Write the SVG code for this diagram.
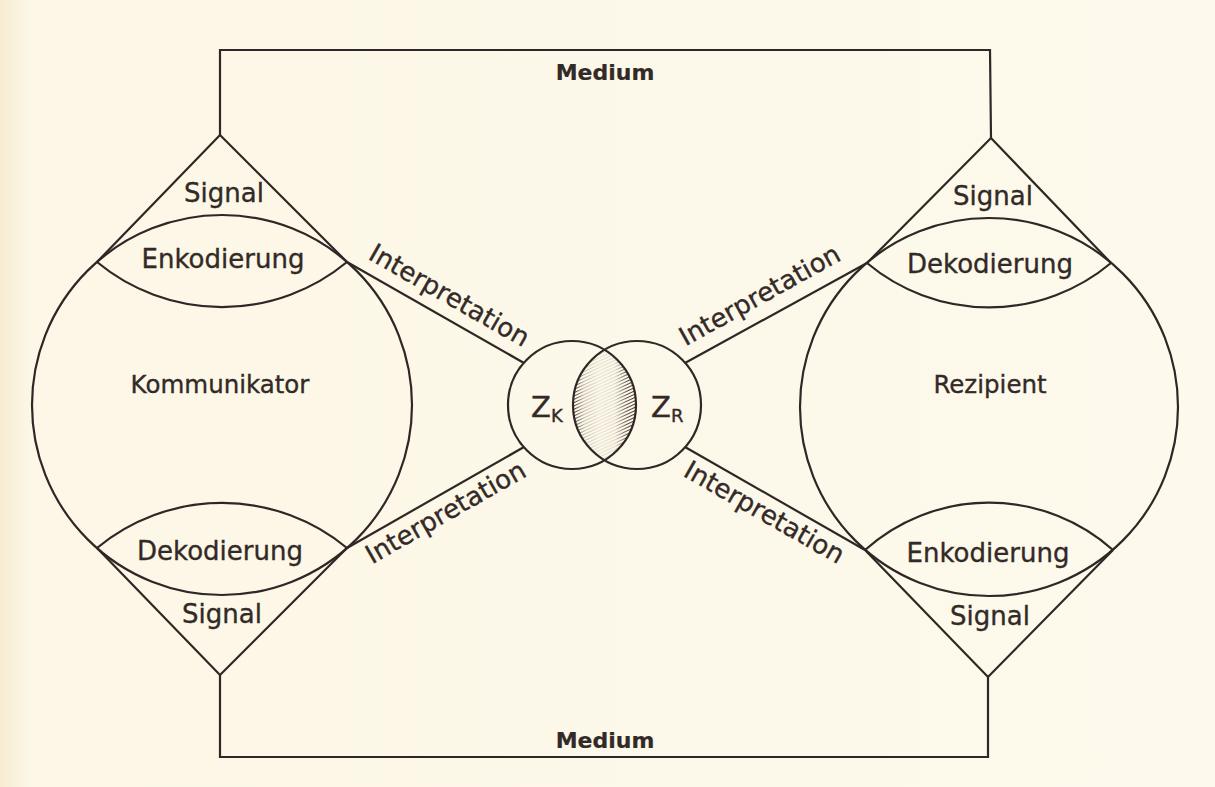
<svg xmlns="http://www.w3.org/2000/svg" width="1215" height="787" viewBox="0 0 1215 787">
  <style>
    .ln { fill: none; stroke: #2f2725; stroke-width: 2.2; stroke-linejoin: miter; }
    .t { font-family: "DejaVu Sans", "Liberation Sans", sans-serif; font-size: 26px; fill: #332a27; stroke: #332a27; stroke-width: 0.35; text-anchor: middle; }
    .big { font-size: 24.5px; }
    .med { font-weight: bold; font-size: 22px; stroke-width: 0.2; }
    .z { font-size: 29px; text-anchor: start; }
    .sub { font-size: 18px; }
  </style>
  <defs>
    <linearGradient id="bg" x1="0" y1="0" x2="1" y2="0">
      <stop offset="0" stop-color="#f8ecd2"/>
      <stop offset="0.025" stop-color="#fcf7e6"/>
      <stop offset="1" stop-color="#fdf9ec"/>
    </linearGradient>
    <pattern id="hatch" patternUnits="userSpaceOnUse" width="3" height="3" patternTransform="rotate(-25)">
      <line x1="0" y1="1.5" x2="3" y2="1.5" stroke="#3a2f2b" stroke-width="1"/>
    </pattern>
    <linearGradient id="fade" gradientUnits="userSpaceOnUse" x1="573" y1="0" x2="637" y2="0">
      <stop offset="0" stop-color="#fff" stop-opacity="1"/>
      <stop offset="0.18" stop-color="#fff" stop-opacity="0.3"/>
      <stop offset="0.4" stop-color="#fff" stop-opacity="0.1"/>
      <stop offset="0.65" stop-color="#fff" stop-opacity="0.15"/>
      <stop offset="0.85" stop-color="#fff" stop-opacity="0.85"/>
      <stop offset="1" stop-color="#fff" stop-opacity="1"/>
    </linearGradient>
    <mask id="lensMask" maskUnits="userSpaceOnUse" x="560" y="340" width="90" height="130">
      <rect x="560" y="340" width="90" height="130" fill="url(#fade)"/>
    </mask>
  </defs>

  <rect x="0" y="0" width="1215" height="787" fill="url(#bg)"/>

  <g id="connectors">
    <polyline id="medium-top" class="ln" points="220,135 220,50 990,50 991,138"/>
    <polyline id="medium-bottom" class="ln" points="220,675 220,757 988,757 988,677"/>
    <line class="ln" x1="347" y1="262" x2="524" y2="363"/>
    <line class="ln" x1="347" y1="548" x2="524" y2="447"/>
    <line class="ln" x1="867" y1="263" x2="685" y2="363"/>
    <line class="ln" x1="865" y1="550" x2="685" y2="447"/>
    <text class="t med" x="605" y="80">Medium</text>
    <text class="t med" x="605" y="748">Medium</text>
    <text class="t" transform="translate(445,303) rotate(29.74)">Interpretation</text>
    <text class="t" transform="translate(450,520) rotate(-29.74)">Interpretation</text>
    <text class="t" transform="translate(764,303) rotate(-29.05)">Interpretation</text>
    <text class="t" transform="translate(760,520) rotate(29.74)">Interpretation</text>
  </g>

  <g id="kommunikator">
    <circle class="ln" cx="222" cy="405" r="190"/>
    <polyline class="ln" points="97,262 220,135 347,262"/>
    <path class="ln" d="M97,262 A196,196 0 0 0 347,262"/>
    <path class="ln" d="M97,548 A196,196 0 0 1 347,548"/>
    <polyline class="ln" points="97,548 220,675 347,548"/>
    <text class="t" x="224" y="202">Signal</text>
    <text class="t" x="223" y="268">Enkodierung</text>
    <text class="t big" x="220" y="393">Kommunikator</text>
    <text class="t" x="220" y="560">Dekodierung</text>
    <text class="t" x="222" y="623">Signal</text>
  </g>

  <g id="rezipient">
    <circle class="ln" cx="989" cy="407" r="189"/>
    <polyline class="ln" points="867,263 991,138 1111,263"/>
    <path class="ln" d="M867,263 A190,190 0 0 0 1111,263"/>
    <path class="ln" d="M865,550 A186,186 0 0 1 1113,550"/>
    <polyline class="ln" points="865,550 988,677 1113,550"/>
    <text class="t" x="993" y="205">Signal</text>
    <text class="t" x="990" y="273">Dekodierung</text>
    <text class="t big" x="990" y="393">Rezipient</text>
    <text class="t" x="988" y="562">Enkodierung</text>
    <text class="t" x="990" y="625">Signal</text>
  </g>

  <g id="zielvorstellungen">
    <path d="M604.5,350 A64,64 0 0 0 604.5,460 A64,64 0 0 0 604.5,350 Z" fill="url(#hatch)" mask="url(#lensMask)"/>
    <circle class="ln" cx="572" cy="405" r="64"/>
    <circle class="ln" cx="637" cy="405" r="64"/>
    <text class="t z" x="531" y="417">Z<tspan class="sub" dy="5">K</tspan></text>
    <text class="t z" x="651" y="417">Z<tspan class="sub" dy="5">R</tspan></text>
  </g>
</svg>
